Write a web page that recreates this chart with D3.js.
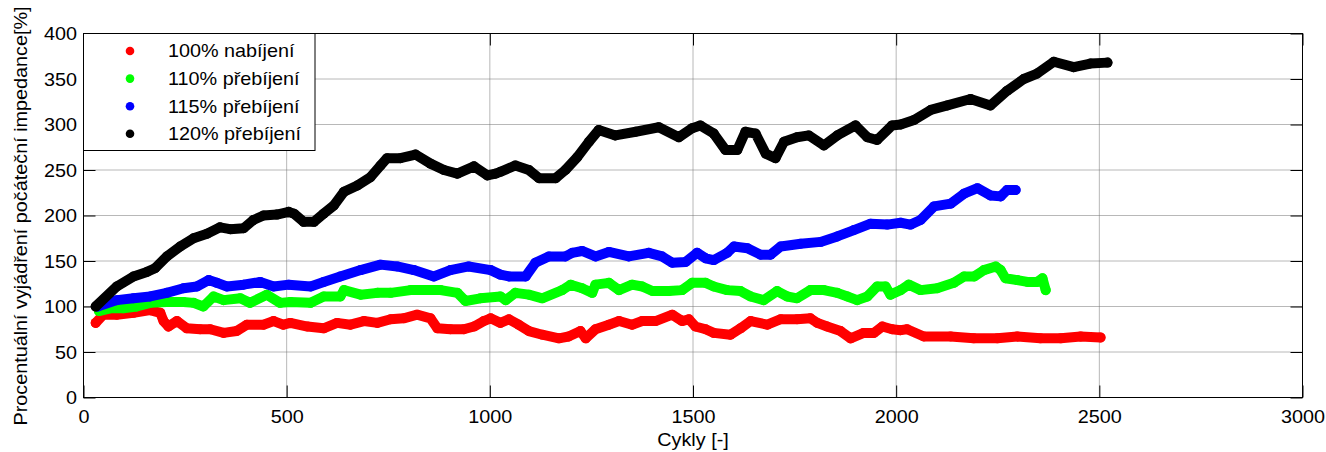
<!DOCTYPE html>
<html>
<head>
<meta charset="utf-8">
<script src="https://cdn.jsdelivr.net/npm/d3@7"></script>
<style>
  html, body { margin: 0; padding: 0; background: #fff; }
  svg { display: block; }
  text { font-family: "Liberation Sans", Arial, sans-serif; fill: #000; }
</style>
</head>
<body>
<svg id="chart" width="1326" height="452"></svg>
<script>
// Impedance growth vs. cycle count, four charging regimes
const seriesNames = ["100% nabíjení", "110% přebíjení", "115% přebíjení", "120% přebíjení"];
const seriesColors = ["#ff0000", "#00ff00", "#0000ff", "#000000"];

// [cycle, percent of initial impedance]
const charge100 = [[30,82],[49,91],[82,91],[123,93],[164,96],[189,93],[197,84],[209,78],[230,84],[254,76],[287,75],[312,75],[345,71],[377,73],[402,80],[443,80],[468,84],[492,80],[509,82],[551,78],[591,76],[624,82],[657,80],[690,84],[723,82],[756,86],[788,87],[821,91],[854,87],[871,76],[903,75],[936,75],[961,78],[985,84],[1002,87],[1026,82],[1047,86],[1071,80],[1096,73],[1129,69],[1170,65],[1194,67],[1223,73],[1236,65],[1260,75],[1293,80],[1318,84],[1350,80],[1375,84],[1408,84],[1449,91],[1473,84],[1490,86],[1506,78],[1531,75],[1551,71],[1592,69],[1617,76],[1642,84],[1683,80],[1716,86],[1756,86],[1789,87],[1806,82],[1830,78],[1863,73],[1888,65],[1920,71],[1945,71],[1966,78],[1990,75],[2011,74],[2027,75],[2068,67],[2134,67],[2191,65],[2249,65],[2298,67],[2355,65],[2405,65],[2454,67],[2503,66]];
const over110 = [[38,95],[66,98],[98,98],[131,100],[164,104],[205,105],[246,105],[271,104],[295,100],[320,111],[345,107],[386,109],[410,104],[451,113],[484,104],[509,105],[559,104],[591,111],[632,111],[641,118],[682,113],[723,115],[756,115],[805,118],[838,118],[879,118],[920,115],[940,106],[977,109],[1026,111],[1039,107],[1063,115],[1096,113],[1129,109],[1178,118],[1199,124],[1227,120],[1252,115],[1260,124],[1293,126],[1318,118],[1350,124],[1375,122],[1400,117],[1441,117],[1473,118],[1498,126],[1531,126],[1551,122],[1584,118],[1617,117],[1642,111],[1674,107],[1707,117],[1732,111],[1756,109],[1789,118],[1822,118],[1855,115],[1880,111],[1904,107],[1929,111],[1953,122],[1974,122],[1986,113],[2011,118],[2031,124],[2060,118],[2101,120],[2142,126],[2167,133],[2192,133],[2216,140],[2245,144],[2257,140],[2269,131],[2298,129],[2323,127],[2347,127],[2360,131],[2368,118]];
const over115 = [[35,100],[82,107],[123,109],[164,111],[205,115],[246,120],[279,122],[308,129],[328,126],[353,122],[394,124],[435,127],[468,122],[505,124],[559,122],[591,127],[632,133],[682,140],[731,146],[772,144],[813,140],[862,133],[903,140],[948,144],[1002,140],[1026,135],[1047,133],[1088,133],[1112,148],[1145,155],[1186,155],[1203,159],[1227,161],[1260,155],[1293,160],[1342,155],[1391,159],[1424,155],[1449,148],[1482,149],[1510,159],[1531,153],[1551,151],[1584,159],[1601,166],[1634,164],[1666,157],[1691,157],[1716,166],[1765,169],[1814,171],[1855,177],[1896,184],[1937,191],[1978,190],[2011,192],[2035,190],[2060,195],[2093,210],[2134,213],[2167,224],[2200,230],[2232,222],[2257,221],[2273,228],[2294,228]];
const over120 = [[30,100],[82,122],[123,133],[156,138],[176,142],[205,155],[238,166],[271,175],[304,180],[336,187],[361,185],[394,186],[418,195],[443,200],[476,201],[505,204],[518,202],[542,193],[567,193],[591,202],[616,211],[641,226],[674,233],[706,242],[731,255],[747,263],[780,263],[817,267],[854,257],[887,250],[920,246],[961,254],[994,244],[1014,246],[1026,248],[1063,255],[1096,250],[1121,241],[1162,241],[1186,250],[1215,264],[1244,281],[1268,294],[1309,288],[1359,292],[1416,297],[1465,286],[1498,296],[1518,299],[1551,290],[1580,272],[1609,272],[1629,292],[1654,290],[1679,268],[1703,263],[1724,281],[1756,286],[1785,288],[1822,277],[1855,288],[1900,299],[1929,286],[1953,283],[1990,299],[2011,300],[2044,305],[2085,316],[2126,321],[2183,328],[2232,321],[2273,337],[2314,350],[2347,356],[2388,369],[2437,363],[2478,367],[2520,368]];

const xTicks = [0, 500, 1000, 1500, 2000, 2500, 3000];
const yTicks = [0, 50, 100, 150, 200, 250, 300, 350, 400];
const xLabel = "Cykly [-]";
const yLabel = "Procentuální vyjádření počáteční impedance[%]";

const allSeries = [charge100, over110, over115, over120];

const margin = { left: 83.5, top: 33.5 };
const width = 1219, height = 364;
const fontSize = 18, stretch = 1.1, tickLen = 12;

const svg = d3.select("#chart");
const g = svg.append("g").attr("transform", `translate(${margin.left},${margin.top})`);

const x = d3.scaleLinear().domain([0, 3000]).range([0, width]);
const y = d3.scaleLinear().domain([0, 400]).range([height, 0]);

// dotted grid
const grid = g.append("g");
grid.selectAll("line.v").data(xTicks.slice(1, -1)).join("line")
  .attr("x1", d => x(d)).attr("x2", d => x(d)).attr("y1", 0).attr("y2", height)
  .attr("stroke", "#707070").attr("stroke-width", 1).attr("stroke-dasharray", "1,1");
grid.selectAll("line.h").data(yTicks.slice(1, -1)).join("line")
  .attr("y1", d => y(d)).attr("y2", d => y(d)).attr("x1", 0).attr("x2", width)
  .attr("stroke", "#707070").attr("stroke-width", 1).attr("stroke-dasharray", "1,1");

// series: dense markers rendered as a thick dotted trace
const line = d3.line().x(d => x(d[0])).y(d => y(d[1]));
allSeries.forEach((data, i) => {
  const s = g.append("g");
  s.append("path").datum(data)
    .attr("d", line)
    .attr("fill", "none")
    .attr("stroke", seriesColors[i])
    .attr("stroke-width", 10)
    .attr("stroke-linejoin", "round")
    .attr("stroke-linecap", "round");
  s.selectAll("circle").data(data).join("circle")
    .attr("cx", d => x(d[0])).attr("cy", d => y(d[1])).attr("r", 5)
    .attr("fill", seriesColors[i]);
});

// axes with inward ticks on all four sides
function styleAxis(sel) {
  sel.select(".domain").remove();
  sel.selectAll(".tick line").attr("stroke", "#000");
}
const axB = g.append("g").attr("transform", `translate(0,${height})`)
  .call(d3.axisBottom(x).tickValues(xTicks).tickSizeInner(-tickLen).tickSizeOuter(0).tickPadding(0).tickFormat(d3.format("d")));
styleAxis(axB);
axB.selectAll(".tick text")
  .attr("font-size", fontSize).attr("y", 0).attr("dy", 0)
  .attr("transform", `translate(0,25.5) scale(${stretch},1)`);

const axT = g.append("g")
  .call(d3.axisTop(x).tickValues(xTicks).tickSizeInner(-tickLen).tickSizeOuter(0).tickFormat(""));
styleAxis(axT);

const axL = g.append("g")
  .call(d3.axisLeft(y).tickValues(yTicks).tickSizeInner(-tickLen).tickSizeOuter(0).tickPadding(0).tickFormat(d3.format("d")));
styleAxis(axL);
axL.selectAll(".tick text")
  .attr("font-size", fontSize).attr("x", 0).attr("dy", "0.35em")
  .attr("transform", `translate(-6.5,0) scale(${stretch},1)`);

const axR = g.append("g").attr("transform", `translate(${width},0)`)
  .call(d3.axisRight(y).tickValues(yTicks).tickSizeInner(-tickLen).tickSizeOuter(0).tickFormat(""));
styleAxis(axR);

// frame
g.append("rect").attr("x", 0).attr("y", 0).attr("width", width).attr("height", height)
  .attr("fill", "none").attr("stroke", "#000").attr("stroke-width", 1);

// axis titles
g.append("text")
  .attr("text-anchor", "middle").attr("font-size", fontSize)
  .attr("transform", `translate(${width / 2},${height + 48.5}) scale(${stretch},1)`)
  .text(xLabel);
svg.append("text")
  .attr("text-anchor", "middle").attr("font-size", fontSize)
  .attr("transform", `translate(27,216) rotate(-90) scale(${stretch},1)`)
  .text(yLabel);

// legend
const legend = g.append("g");
legend.append("rect").attr("x", 0).attr("y", 0).attr("width", 231.5).attr("height", 117)
  .attr("fill", "#fff").attr("stroke", "#000").attr("stroke-width", 1);
const entries = legend.selectAll("g.entry").data(seriesNames).join("g")
  .attr("transform", (d, i) => `translate(0,${17.5 + i * 27.6})`);
entries.append("circle").attr("cx", 46.5).attr("cy", 0).attr("r", 4.3)
  .attr("fill", (d, i) => seriesColors[i]);
entries.append("text").attr("font-size", fontSize).attr("dy", "0.35em")
  .attr("transform", `translate(84.5,0) scale(${stretch},1)`)
  .text(d => d);
</script>
</body>
</html>
